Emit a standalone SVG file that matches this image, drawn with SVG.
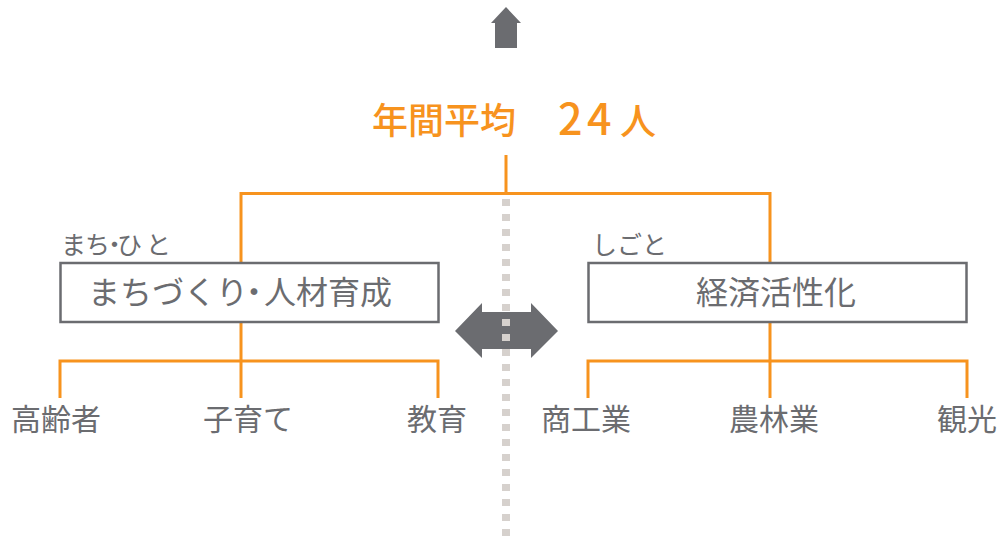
<svg xmlns="http://www.w3.org/2000/svg" width="1005" height="538" viewBox="0 0 1005 538">
<style>
.t{font-family:"Noto Sans CJK JP","Noto Sans CJK SC",sans-serif;fill:#6b6c70}
.title{font-family:"Noto Sans CJK JP","Noto Sans CJK SC",sans-serif;fill:#f7931e;font-size:36px;font-weight:500}
.box{fill:#fff;stroke:#6b6c70;stroke-width:2.5}
.ln{fill:none;stroke:#f7931e;stroke-width:3}
.dash{stroke:#d6d1cd;stroke-width:8;stroke-dasharray:7 8}
.ar{fill:#6b6c70}
</style>
<rect width="1005" height="538" fill="#fff"/>
<g id="up-arrow"><polygon class="ar" points="506,7 521,23 517,23 517,48 495,48 495,23 491,23"/></g>
<g id="title"><text class="title" y="134"><tspan x="372">年間平均</tspan><tspan x="558 587" y="135" font-size="43">24</tspan><tspan x="620">人</tspan></text></g>
<g id="connectors">
<path class="ln" d="M506,155 V193.5 M241,193.5 H770 M241,192 V263 M770,192 V263"/>
<path class="ln" d="M241,323 V361 M60,398 V361 H438 V398 M241,361 V398"/>
<path class="ln" d="M770,323 V361 M588,398 V361 H967 V398 M770,361 V398"/>
</g>
<g id="double-arrow"><polygon class="ar" points="455,331 482,303 482,312 531,312 531,303 558,331 531,358 531,349 482,349 482,358"/></g>
<g id="divider"><line class="dash" x1="506" y1="199" x2="506" y2="538"/></g>
<g id="node-machi">
<text class="t" x="61 85 102 117 146" y="254" font-size="25">まち・ひと</text>
<rect class="box" x="60.5" y="263" width="378" height="59"/>
<text class="t" x="88 120 152 184 216 238 264 296 328 360" y="304" font-size="32">まちづくり・人材育成</text>
</g>
<g id="node-shigoto">
<text class="t" x="592" y="254" font-size="25">しごと</text>
<rect class="box" x="588.5" y="263" width="378" height="59"/>
<text class="t" x="696" y="304" font-size="32">経済活性化</text>
</g>
<g id="leaf-koureisha"><text class="t" x="11" y="430" font-size="30">高齢者</text></g>
<g id="leaf-kosodate"><text class="t" x="203" y="430" font-size="30">子育て</text></g>
<g id="leaf-kyouiku"><text class="t" x="407" y="430" font-size="30">教育</text></g>
<g id="leaf-shoukougyou"><text class="t" x="541" y="430" font-size="30">商工業</text></g>
<g id="leaf-nouringyou"><text class="t" x="729" y="430" font-size="30">農林業</text></g>
<g id="leaf-kankou"><text class="t" x="937" y="430" font-size="30">観光</text></g>
</svg>
